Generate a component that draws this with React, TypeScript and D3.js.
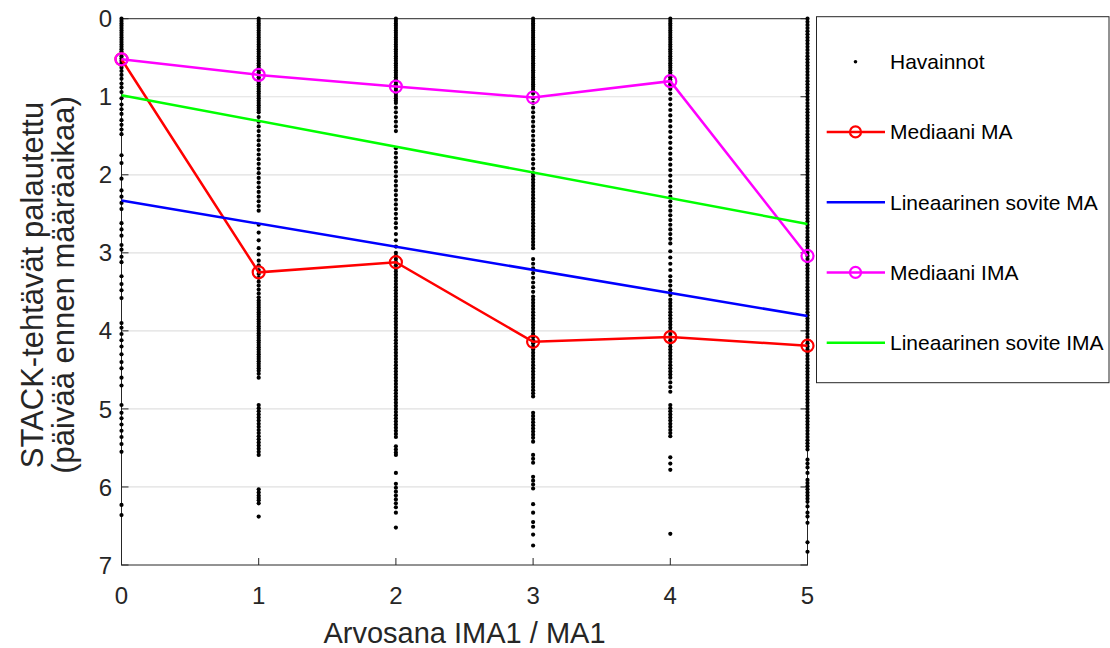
import React from "react";
import * as d3 from "d3";

const categories = [0, 1, 2, 3, 4, 5];
const xTicks = [0, 1, 2, 3, 4, 5];
const yTicks = [0, 1, 2, 3, 4, 5, 6, 7];
const medianMA = [0.52, 3.25, 3.12, 4.14, 4.08, 4.19];
const medianIMA = [0.52, 0.72, 0.87, 1.01, 0.8, 3.04];
const fitX = [0, 5];
const linFitMA = [2.33, 3.81];
const linFitIMA = [0.98, 2.63];
const legendLabels = ["Havainnot", "Mediaani MA", "Lineaarinen sovite MA", "Mediaani IMA", "Lineaarinen sovite IMA"];
const xLabel = "Arvosana IMA1 / MA1";
const yLabel1 = "STACK-tehtävät palautettu";
const yLabel2 = "(päivää ennen määräaikaa)";

const obs0 = [0, 0.03, 0.06, 0.09, 0.12, 0.15, 0.18, 0.21, 0.24, 0.27, 0.3, 0.33, 0.36, 0.39, 0.42, 0.45, 0.48, 0.51, 0.54, 0.57, 0.6, 0.63, 0.67, 0.72, 0.77, 0.83, 0.88, 0.94, 1.02, 1.1, 1.16, 1.22, 1.3, 1.36, 1.42, 1.48, 1.75, 1.85, 2.05, 2.2, 2.28, 2.36, 2.44, 2.62, 2.7, 2.78, 2.9, 2.96, 3.05, 3.12, 3.3, 3.4, 3.48, 3.58, 3.9, 3.96, 4.04, 4.12, 4.2, 4.3, 4.4, 4.48, 4.6, 4.7, 4.95, 5.05, 5.12, 5.2, 5.28, 5.36, 5.45, 5.55, 6.23, 6.36];
const obs1 = [0, 0.03, 0.06, 0.09, 0.12, 0.15, 0.18, 0.21, 0.24, 0.27, 0.3, 0.33, 0.36, 0.39, 0.42, 0.45, 0.48, 0.51, 0.54, 0.57, 0.6, 0.63, 0.66, 0.69, 0.72, 0.75, 0.78, 0.81, 0.84, 0.87, 0.9, 0.93, 0.96, 0.99, 1.02, 1.05, 1.08, 1.11, 1.14, 1.17, 1.2, 1.26, 1.32, 1.38, 1.44, 1.5, 1.56, 1.62, 1.68, 1.74, 1.8, 1.86, 1.92, 1.98, 2.04, 2.1, 2.16, 2.22, 2.28, 2.34, 2.4, 2.46, 2.64, 2.74, 2.84, 2.94, 3.02, 3.1, 3.16, 3.22, 3.27, 3.32, 3.37, 3.42, 3.47, 3.52, 3.57, 3.61, 3.64, 3.67, 3.7, 3.73, 3.76, 3.79, 3.82, 3.85, 3.88, 3.91, 3.94, 3.97, 4, 4.03, 4.06, 4.09, 4.12, 4.15, 4.18, 4.21, 4.24, 4.27, 4.3, 4.33, 4.36, 4.39, 4.42, 4.45, 4.48, 4.51, 4.55, 4.6, 4.95, 4.99, 5.03, 5.07, 5.11, 5.15, 5.19, 5.23, 5.27, 5.31, 5.35, 5.39, 5.43, 5.47, 5.51, 5.55, 5.59, 6.03, 6.07, 6.11, 6.14, 6.17, 6.21, 6.38];
const obs2 = [0, 0.03, 0.06, 0.09, 0.12, 0.15, 0.18, 0.21, 0.24, 0.27, 0.3, 0.33, 0.36, 0.39, 0.42, 0.45, 0.48, 0.51, 0.54, 0.57, 0.6, 0.63, 0.66, 0.69, 0.72, 0.75, 0.78, 0.81, 0.84, 0.87, 0.9, 0.93, 0.96, 0.99, 1.02, 1.05, 1.08, 1.14, 1.2, 1.26, 1.32, 1.38, 1.44, 1.66, 1.72, 1.78, 1.84, 1.9, 1.96, 2.02, 2.08, 2.14, 2.2, 2.26, 2.32, 2.38, 2.44, 2.5, 2.56, 2.62, 2.68, 2.76, 2.84, 2.92, 3, 3.04, 3.08, 3.12, 3.16, 3.2, 3.24, 3.28, 3.32, 3.36, 3.4, 3.44, 3.48, 3.52, 3.56, 3.6, 3.64, 3.68, 3.72, 3.76, 3.8, 3.84, 3.88, 3.92, 3.96, 4, 4.04, 4.08, 4.12, 4.16, 4.2, 4.24, 4.28, 4.32, 4.36, 4.4, 4.44, 4.48, 4.52, 4.56, 4.6, 4.64, 4.68, 4.72, 4.76, 4.8, 4.84, 4.88, 4.92, 4.96, 5, 5.04, 5.08, 5.12, 5.16, 5.2, 5.24, 5.28, 5.32, 5.36, 5.48, 5.52, 5.56, 5.59, 5.82, 5.96, 6.01, 6.06, 6.11, 6.16, 6.21, 6.26, 6.33, 6.52];
const obs3 = [0, 0.03, 0.06, 0.09, 0.12, 0.15, 0.18, 0.21, 0.24, 0.27, 0.3, 0.33, 0.36, 0.39, 0.42, 0.45, 0.48, 0.51, 0.54, 0.57, 0.6, 0.63, 0.66, 0.69, 0.72, 0.75, 0.78, 0.81, 0.84, 0.87, 0.9, 0.93, 0.96, 1.02, 1.08, 1.14, 1.2, 1.26, 1.32, 1.38, 1.44, 1.5, 1.56, 1.62, 1.68, 1.74, 1.8, 1.86, 1.92, 1.98, 2.02, 2.06, 2.1, 2.14, 2.18, 2.22, 2.26, 2.3, 2.34, 2.38, 2.42, 2.46, 2.5, 2.54, 2.58, 2.62, 2.66, 2.7, 2.74, 2.78, 2.82, 2.86, 2.9, 2.94, 3.08, 3.14, 3.2, 3.26, 3.32, 3.38, 3.44, 3.5, 3.56, 3.6, 3.64, 3.68, 3.72, 3.76, 3.8, 3.84, 3.88, 3.92, 3.96, 4, 4.04, 4.08, 4.12, 4.16, 4.2, 4.24, 4.28, 4.32, 4.36, 4.4, 4.44, 4.48, 4.52, 4.56, 4.6, 4.64, 4.68, 4.72, 4.76, 4.8, 4.84, 5.05, 5.09, 5.13, 5.17, 5.21, 5.25, 5.29, 5.33, 5.37, 5.42, 5.59, 5.64, 5.69, 5.87, 5.92, 5.97, 6.02, 6.22, 6.33, 6.45, 6.51, 6.61, 6.75];
const obs4 = [0, 0.03, 0.06, 0.09, 0.12, 0.15, 0.18, 0.21, 0.24, 0.27, 0.3, 0.33, 0.36, 0.39, 0.42, 0.45, 0.48, 0.51, 0.54, 0.57, 0.6, 0.63, 0.66, 0.69, 0.72, 0.75, 0.78, 0.81, 0.84, 0.87, 0.9, 0.96, 1.03, 1.1, 1.17, 1.24, 1.31, 1.38, 1.45, 1.52, 1.59, 1.66, 1.73, 1.8, 1.87, 1.94, 2.01, 2.08, 2.15, 2.22, 2.28, 2.34, 2.4, 2.46, 2.52, 2.58, 2.64, 2.7, 2.76, 2.82, 2.88, 2.98, 3.06, 3.14, 3.22, 3.3, 3.36, 3.42, 3.48, 3.54, 3.6, 3.64, 3.68, 3.72, 3.76, 3.8, 3.84, 3.88, 3.92, 3.96, 4, 4.04, 4.08, 4.12, 4.16, 4.2, 4.24, 4.28, 4.32, 4.36, 4.4, 4.44, 4.48, 4.52, 4.56, 4.6, 4.66, 4.72, 4.78, 4.95, 4.99, 5.03, 5.07, 5.11, 5.15, 5.19, 5.23, 5.27, 5.31, 5.35, 5.62, 5.7, 5.78, 6.6];
const obs5 = [0, 0.04, 0.08, 0.12, 0.16, 0.2, 0.24, 0.28, 0.32, 0.36, 0.4, 0.44, 0.48, 0.52, 0.56, 0.6, 0.64, 0.68, 0.72, 0.76, 0.8, 0.84, 0.88, 0.92, 0.96, 1, 1.04, 1.08, 1.12, 1.16, 1.2, 1.24, 1.28, 1.32, 1.36, 1.4, 1.44, 1.48, 1.52, 1.56, 1.6, 1.64, 1.68, 1.72, 1.76, 1.8, 1.84, 1.88, 1.92, 1.96, 2, 2.04, 2.08, 2.12, 2.16, 2.2, 2.24, 2.28, 2.32, 2.36, 2.4, 2.44, 2.48, 2.52, 2.56, 2.6, 2.64, 2.68, 2.72, 2.76, 2.8, 2.84, 2.88, 2.92, 2.96, 3, 3.04, 3.08, 3.12, 3.16, 3.2, 3.24, 3.28, 3.32, 3.36, 3.4, 3.44, 3.48, 3.52, 3.56, 3.6, 3.64, 3.68, 3.72, 3.76, 3.8, 3.84, 3.88, 3.92, 3.96, 4, 4.04, 4.08, 4.12, 4.16, 4.2, 4.24, 4.28, 4.32, 4.36, 4.4, 4.44, 4.48, 4.52, 4.56, 4.6, 4.64, 4.68, 4.72, 4.76, 4.8, 4.84, 4.88, 4.92, 4.96, 5, 5.04, 5.08, 5.12, 5.16, 5.2, 5.24, 5.28, 5.32, 5.36, 5.4, 5.44, 5.48, 5.52, 5.65, 5.7, 5.75, 5.82, 5.91, 5.95, 5.99, 6.03, 6.07, 6.11, 6.15, 6.19, 6.25, 6.33, 6.38, 6.46, 6.71, 6.83];
const observations = [obs0, obs1, obs2, obs3, obs4, obs5];

const FONT = "'Liberation Sans', Arial, sans-serif";
const AX = "#262626";

export default function App() {
  const x = d3.scaleLinear().domain([0, 5]).range([121.5, 807.5]);
  const y = d3.scaleLinear().domain([0, 7]).range([18.7, 565]);
  const [x0, x1] = x.range();
  const [y0, y1] = y.range();
  const medLine = d3.line<number>().x((_, i) => x(categories[i])).y((d) => y(d));
  const fitLine = d3.line<number>().x((_, i) => x(fitX[i])).y((d) => y(d));
  const tick = 7;

  const legX = 816.5, legY = 16.7, legW = 292.5, legH = 366;
  const entryY = (i: number) => 61.7 + 70.25 * i;
  const sx0 = 826.7, sx1 = 885, sxm = 855.5, tx = 890;
  const legendStyles = [
    { color: "#000000", kind: "dot" },
    { color: "#ff0000", kind: "lineMarker" },
    { color: "#0000ff", kind: "line" },
    { color: "#ff00ff", kind: "lineMarker" },
    { color: "#00ff00", kind: "line" },
  ];

  return (
    <svg width={1110} height={648} style={{ position: "absolute", left: 0, top: 0, background: "#fff" }} fontFamily={FONT}>
      <rect x={0} y={0} width={1110} height={648} fill="#fff" />
      {yTicks.slice(1, -1).map((t) => (
        <line key={"g" + t} x1={x0} x2={x1} y1={y(t)} y2={y(t)} stroke="#e0e0e0" strokeWidth={1.2} />
      ))}
      <g stroke={AX} strokeWidth={1} fill="none">
        <rect x={x0} y={y0} width={x1 - x0} height={y1 - y0} />
        {yTicks.map((t) => (
          <g key={"yt" + t}>
            <line x1={x0} x2={x0 + tick} y1={y(t)} y2={y(t)} />
            <line x1={x1} x2={x1 - tick} y1={y(t)} y2={y(t)} />
          </g>
        ))}
        {xTicks.map((t) => (
          <g key={"xt" + t}>
            <line x1={x(t)} x2={x(t)} y1={y1} y2={y1 - tick} />
            <line x1={x(t)} x2={x(t)} y1={y0} y2={y0 + tick} />
          </g>
        ))}
      </g>
      <g fill="#000">
        {observations.map((col, ci) =>
          col.map((v, j) => <circle key={ci + "-" + j} cx={x(categories[ci])} cy={y(v)} r={2.1} />)
        )}
      </g>
      <path d={medLine(medianMA) || ""} fill="none" stroke="#ff0000" strokeWidth={2.5} />
      {medianMA.map((v, i) => (
        <circle key={"mm" + i} cx={x(categories[i])} cy={y(v)} r={6} fill="none" stroke="#ff0000" strokeWidth={2.2} />
      ))}
      <path d={fitLine(linFitMA) || ""} fill="none" stroke="#0000ff" strokeWidth={2.5} />
      <path d={medLine(medianIMA) || ""} fill="none" stroke="#ff00ff" strokeWidth={2.5} />
      {medianIMA.map((v, i) => (
        <circle key={"mi" + i} cx={x(categories[i])} cy={y(v)} r={6} fill="none" stroke="#ff00ff" strokeWidth={2.2} />
      ))}
      <path d={fitLine(linFitIMA) || ""} fill="none" stroke="#00ff00" strokeWidth={2.5} />

      {yTicks.map((t) => (
        <text key={"yl" + t} x={112} y={y(t) + 8.6} textAnchor="end" fontSize={24} fill={AX}>
          {t}
        </text>
      ))}
      {xTicks.map((t) => (
        <text key={"xl" + t} x={x(t)} y={603.5} textAnchor="middle" fontSize={24} fill={AX}>
          {t}
        </text>
      ))}
      <text x={(x0 + x1) / 2} y={643} textAnchor="middle" fontSize={29} fill={AX}>
        {xLabel}
      </text>
      <text transform={`translate(43, 285) rotate(-90)`} textAnchor="middle" fontSize={31} fill={AX}>
        {yLabel1}
      </text>
      <text transform={`translate(74, 285) rotate(-90)`} textAnchor="middle" fontSize={31} fill={AX}>
        {yLabel2}
      </text>

      <rect x={legX} y={legY} width={legW} height={legH} fill="#fff" stroke={AX} strokeWidth={1} />
      {legendLabels.map((lab, i) => {
        const ey = entryY(i);
        const s = legendStyles[i];
        return (
          <g key={"leg" + i}>
            {s.kind === "dot" ? (
              <circle cx={sxm} cy={ey} r={1.8} fill="#000" />
            ) : (
              <line x1={sx0} x2={sx1} y1={ey} y2={ey} stroke={s.color} strokeWidth={2.5} />
            )}
            {s.kind === "lineMarker" && (
              <circle cx={sxm} cy={ey} r={5.5} fill="none" stroke={s.color} strokeWidth={2.2} />
            )}
            <text x={tx} y={ey + 7.5} fontSize={21} fill="#000">
              {lab}
            </text>
          </g>
        );
      })}
    </svg>
  );
}
